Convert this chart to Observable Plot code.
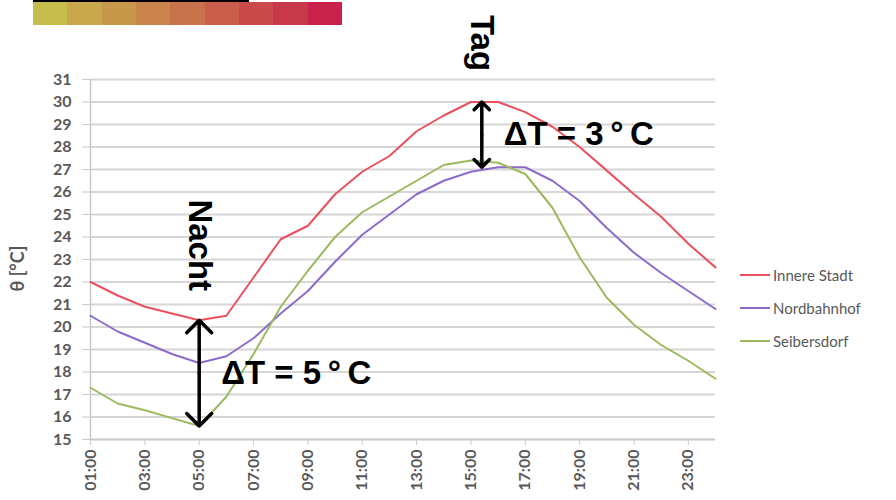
<!DOCTYPE html>
<html>
<head>
<meta charset="utf-8">
<script src="https://cdn.jsdelivr.net/npm/d3@7"></script>
<script src="https://cdn.jsdelivr.net/npm/@observablehq/plot@0.6"></script>
<style>
  html, body { margin: 0; padding: 0; background: #fff; }
  #wrap { position: relative; width: 896px; height: 500px; overflow: hidden; font-family: Lato, "Open Sans", sans-serif; }
  #bar { position: absolute; left: 33px; top: 2px; display: flex; height: 23px; }
  #bar div { width: 34.33px; height: 23px; }
  #barline { position: absolute; left: 33px; top: 0; width: 216px; height: 2px; background: #000; }
  #legend { position: absolute; left: 740px; top: 258px; color: #595959; font-size: 15px; }
  #legend .item { display: flex; align-items: center; height: 33px; }
  #legend .sw { width: 30px; height: 2px; margin-right: 3px; }
  #chart { position: absolute; left: 0; top: 0; }
</style>
</head>
<body>
<div id="wrap">
  <div id="chart"></div>
  <div id="barline"></div>
  <div id="bar"></div>
  <div id="legend"></div>
</div>
<script>
const hours = d3.range(1, 25);
const xTicks = [1, 3, 5, 7, 9, 11, 13, 15, 17, 19, 21, 23];
const yTicks = d3.range(15, 32);
const seriesNames = ["Innere Stadt", "Nordbahnhof", "Seibersdorf"];
const seriesColors = ["#e8515d", "#8c6bc9", "#9cb95e"];
const innereStadt = [22.0, 21.4, 20.9, 20.6, 20.3, 20.5, 22.2, 23.9, 24.5, 25.9, 26.9, 27.6, 28.7, 29.4, 30.0, 30.0, 29.55, 28.9, 28.0, 26.95, 25.9, 24.9, 23.7, 22.65];
const nordbahnhof = [20.5, 19.8, 19.3, 18.8, 18.4, 18.7, 19.5, 20.6, 21.6, 22.9, 24.1, 25.0, 25.9, 26.5, 26.9, 27.1, 27.1, 26.5, 25.6, 24.4, 23.3, 22.4, 21.6, 20.8];
const seibersdorf = [17.3, 16.6, 16.3, 15.95, 15.6, 16.9, 18.8, 20.9, 22.5, 24.0, 25.1, 25.8, 26.5, 27.2, 27.4, 27.3, 26.8, 25.3, 23.1, 21.3, 20.1, 19.2, 18.5, 17.7];
const barColors = ["#c6be4c", "#c9a84b", "#c8984a", "#c8844a", "#c8724b", "#c85e4b", "#c84a4b", "#c8384b", "#c8214b"];
const nightHour = 5, dayHour = 15.4;
const nightTop = 20.3, nightBottom = 15.6;
const dayTop = 30.0, dayBottom = 27.1;

const values = [innereStadt, nordbahnhof, seibersdorf];
const data = [];
values.forEach((arr, i) => arr.forEach((v, j) => data.push({hour: hours[j], temp: v, series: seriesNames[i]})));

const arrows = [
  {x: nightHour, y1: (nightTop + nightBottom) / 2, y2: nightTop},
  {x: nightHour, y1: (nightTop + nightBottom) / 2, y2: nightBottom},
  {x: dayHour, y1: (dayTop + dayBottom) / 2, y2: dayTop},
  {x: dayHour, y1: (dayTop + dayBottom) / 2, y2: dayBottom}
];
const labels = [
  {x: nightHour, y: (nightTop + nightBottom) / 2, text: "ΔT = 5\u2009°\u2009C"},
  {x: dayHour, y: (dayTop + dayBottom) / 2, text: "ΔT = 3\u2009°\u2009C"}
];
const boldFont = "Liberation Sans, Arial, sans-serif";

const chart = Plot.plot({
  width: 896, height: 500,
  marginLeft: 90, marginRight: 181, marginTop: 79, marginBottom: 61,
  style: {fontFamily: "Lato, 'Open Sans', sans-serif", background: "transparent"},
  x: {domain: [1, 24], label: null},
  y: {domain: [15, 31], label: null},
  color: {domain: seriesNames, range: seriesColors},
  marks: [
    Plot.gridY(yTicks, {stroke: "#d6d6d6", strokeOpacity: 1, strokeWidth: 2}),
    Plot.ruleX([1], {stroke: "#c8c8c8", strokeWidth: 1.5}),
    Plot.ruleY([15], {stroke: "#c8c8c8", strokeWidth: 1.5}),
    Plot.axisY(yTicks, {tickSize: 8, tickPadding: 11, stroke: "#c8c8c8", fill: "#595959", fontSize: 16, fontWeight: "bold", label: null}),
    Plot.axisX(xTicks, {tickSize: 6, tickPadding: 4, tickRotate: -90, stroke: "#c8c8c8", fill: "#595959", fontSize: 16, fontWeight: "bold",
      tickFormat: h => String(h).padStart(2, "0") + ":00", label: null}),
    Plot.text(["θ [°C]"], {frameAnchor: "left", dx: -72, dy: 32, rotate: -90, fill: "#595959", fontSize: 18, fontWeight: "bold"}),
    Plot.line(data, {x: "hour", y: "temp", stroke: "series", z: "series", strokeWidth: 2}),
    Plot.arrow(arrows, {x1: "x", x2: "x", y1: "y1", y2: "y2", stroke: "#000", strokeWidth: 3.5, headLength: 14, headAngle: 90}),
    Plot.text(labels, {x: "x", y: "y", text: "text", textAnchor: "start", dx: 22, fontSize: 33, fontWeight: "bold", fontFamily: boldFont, fill: "#000"}),
    Plot.text([{x: nightHour, y: nightTop}], {x: "x", y: "y", text: () => "Nacht", dy: -75, rotate: 90, fontSize: 33, fontWeight: "bold", fontFamily: boldFont, fill: "#000"}),
    Plot.text([{x: dayHour, y: dayTop}], {x: "x", y: "y", text: () => "Tag", dy: -59, rotate: 90, fontSize: 33, fontWeight: "bold", fontFamily: boldFont, fill: "#000"})
  ]
});
document.getElementById("chart").appendChild(chart);

const bar = document.getElementById("bar");
barColors.forEach(c => { const d = document.createElement("div"); d.style.background = c; bar.appendChild(d); });

const legend = document.getElementById("legend");
seriesNames.forEach((n, i) => {
  const it = document.createElement("div"); it.className = "item";
  const sw = document.createElement("div"); sw.className = "sw"; sw.style.background = seriesColors[i];
  const t = document.createElement("span"); t.textContent = n;
  it.appendChild(sw); it.appendChild(t); legend.appendChild(it);
});
</script>
</body>
</html>
